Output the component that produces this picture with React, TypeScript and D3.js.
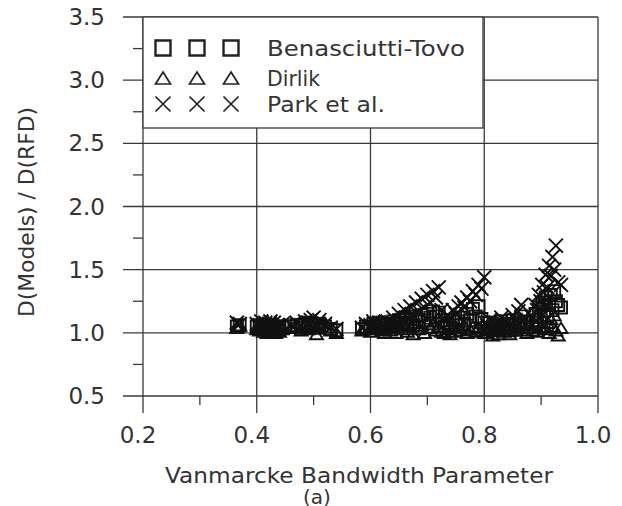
import React from "react";
import * as d3 from "d3";

// Vanmarcke bandwidth parameter (x) and damage ratios for each model
const bandwidth = [
  0.365, 0.37,
  0.4, 0.405, 0.408, 0.412, 0.415, 0.418, 0.421, 0.424, 0.427, 0.43, 0.433, 0.436, 0.44, 0.445,
  0.46, 0.47, 0.478, 0.485, 0.49, 0.495, 0.5, 0.505, 0.51, 0.52, 0.53, 0.54,
  0.585, 0.592, 0.6, 0.605, 0.61, 0.615, 0.62, 0.625, 0.63,
  0.635, 0.64, 0.645, 0.65, 0.655, 0.66, 0.665, 0.67, 0.675, 0.68, 0.685, 0.69, 0.695, 0.7, 0.705, 0.71, 0.715, 0.72, 0.725,
  0.73, 0.735, 0.74, 0.745, 0.75, 0.755, 0.76, 0.765, 0.77, 0.775, 0.78, 0.785, 0.79, 0.795, 0.8,
  0.805, 0.81, 0.815, 0.82, 0.825, 0.83, 0.835, 0.84, 0.845, 0.85, 0.855, 0.86, 0.865, 0.87, 0.875,
  0.885, 0.89, 0.893, 0.896, 0.899, 0.902, 0.905, 0.908, 0.911, 0.914, 0.917, 0.92, 0.923, 0.926, 0.93, 0.935,
];
const benasciuttiTovo = [
  1.05, 1.06,
  1.05, 1.04, 1.06, 1.03, 1.05, 1.02, 1.04, 1.06, 1.03, 1.05, 1.02, 1.04, 1.03, 1.05,
  1.05, 1.06, 1.04, 1.07, 1.05, 1.08, 1.06, 1.04, 1.07, 1.05, 1.03, 1.02,
  1.03, 1.05, 1.04, 1.07, 1.05, 1.08, 1.06, 1.04, 1.07,
  1.06, 1.09, 1.05, 1.1, 1.07, 1.12, 1.08, 1.11, 1.06, 1.13, 1.09, 1.14, 1.1, 1.15, 1.12, 1.17, 1.13, 1.16, 1.1,
  1.05, 1.08, 1.04, 1.1, 1.06, 1.09, 1.12, 1.07, 1.15, 1.1, 1.19, 1.13, 1.21, 1.11, 1.08,
  1.04, 1.08, 1.02, 1.06, 1.03, 1.09, 1.05, 1.07, 1.02, 1.1, 1.06, 1.08, 1.13, 1.09, 1.05,
  1.08, 1.15, 1.1, 1.2, 1.13, 1.24, 1.17, 1.28, 1.14, 1.22, 1.3, 1.18, 1.33, 1.25, 1.22, 1.2,
];
const dirlik = [
  1.04, 1.06,
  1.03, 1.02, 1.05, 1.01, 1.03, 1.0, 1.02, 1.04, 1.01, 1.03, 1.0, 1.02, 1.01, 1.03,
  1.04, 1.05, 1.02, 1.06, 1.03, 1.07, 1.05, 0.99, 1.06, 1.08, 1.02, 1.0,
  1.02, 1.04, 1.01, 1.06, 1.03, 1.05, 1.02, 1.0, 1.04,
  1.02, 1.05, 1.0, 1.06, 1.03, 1.07, 1.01, 1.05, 0.99, 1.08, 1.03, 1.06, 1.0, 1.09, 1.04, 1.07, 1.02, 1.05, 1.01,
  1.0, 1.03, 0.99, 1.05, 1.01, 1.04, 1.02, 1.06, 1.0, 1.03, 1.05, 1.01, 1.04, 1.02, 1.0,
  1.0, 1.03, 0.98, 1.02, 0.99, 1.04, 1.01, 1.03, 0.99, 1.05, 1.02, 1.04, 1.06, 1.02, 1.0,
  1.02, 1.06, 1.01, 1.09, 1.04, 1.12, 1.05, 1.03, 1.08, 1.0, 1.11, 1.05, 1.14, 1.02, 0.98, 1.04,
];
const parkEtAl = [
  1.08, 1.07,
  1.07, 1.06, 1.09, 1.05, 1.08, 1.04, 1.07, 1.09, 1.05, 1.08, 1.04, 1.06, 1.05, 1.07,
  1.06, 1.08, 1.06, 1.09, 1.08, 1.1, 1.12, 1.06, 1.1, 1.07, 1.04, 1.03,
  1.04, 1.07, 1.06, 1.09, 1.06, 1.08, 1.07, 1.05, 1.09,
  1.08, 1.12, 1.07, 1.15, 1.1, 1.18, 1.12, 1.21, 1.14, 1.24, 1.17, 1.27, 1.2, 1.3, 1.24, 1.33, 1.28, 1.36, 1.18,
  1.1, 1.14, 1.12, 1.18, 1.15, 1.21, 1.24, 1.2, 1.28, 1.25, 1.33, 1.3, 1.38, 1.35, 1.44,
  1.06, 1.1, 1.04, 1.08, 1.05, 1.12, 1.07, 1.09, 1.04, 1.14, 1.1, 1.17, 1.22, 1.12, 1.07,
  1.12, 1.22, 1.18, 1.3, 1.25, 1.38, 1.32, 1.46, 1.36, 1.53, 1.45, 1.6, 1.5, 1.69, 1.4, 1.38,
];

const xTicks = [0.2, 0.4, 0.6, 0.8, 1.0];
const xMinorTicks = [0.3, 0.5, 0.7, 0.9];
const yTicks = [0.5, 1.0, 1.5, 2.0, 2.5, 3.0, 3.5];
const yMinorTicks = [0.75, 1.25, 1.75, 2.25, 2.75, 3.25];
const seriesNames = ["Benasciutti-Tovo", "Dirlik", "Park et al."];

const W = 622;
const H = 506;
const FONT = "DejaVu Sans, Verdana, sans-serif";
const LINE = "#3a3a3a";
const TEXT = "#333";

const squarePath = (cx: number, cy: number, s: number) => {
  const h = s / 2;
  return `M${cx - h},${cy - h}H${cx + h}V${cy + h}H${cx - h}Z`;
};
const trianglePath = (cx: number, cy: number, s: number) => {
  const h = s / 2;
  const th = s * 0.8;
  return `M${cx},${cy - th / 2}L${cx + h},${cy + th / 2}L${cx - h},${cy + th / 2}Z`;
};
const crossPath = (cx: number, cy: number, s: number) => {
  const h = s / 2;
  return `M${cx - h},${cy - h}L${cx + h},${cy + h}M${cx + h},${cy - h}L${cx - h},${cy + h}`;
};
const shapes = [squarePath, trianglePath, crossPath];

export default function App() {
  const x = d3.scaleLinear().domain([0.2, 1.0]).range([143, 598]);
  const y = d3.scaleLinear().domain([0.5, 3.5]).range([396, 17]);
  const series = [benasciuttiTovo, dirlik, parkEtAl];
  const dataSizes = [12, 13, 14];
  const fmt = d3.format(".1f");

  const legendRows = [48, 78, 104];
  const legendCols = [163, 197, 231];
  const legendWidths = [198, 53, 118];

  return (
    <svg
      width={W}
      height={H}
      style={{ position: "absolute", left: 0, top: 0, background: "#fff" }}
    >
      <rect x={0} y={0} width={W} height={H} fill="#fff" />
      {yTicks.map((t) => (
        <line
          key={"hy" + t}
          x1={123}
          x2={x(1.0)}
          y1={y(t)}
          y2={y(t)}
          stroke={LINE}
          strokeWidth={1.3}
        />
      ))}
      {yMinorTicks.map((t) => (
        <line
          key={"my" + t}
          x1={133}
          x2={x(0.2)}
          y1={y(t)}
          y2={y(t)}
          stroke={LINE}
          strokeWidth={1.3}
        />
      ))}
      {xTicks.map((t) => (
        <line
          key={"vx" + t}
          x1={x(t)}
          x2={x(t)}
          y1={y(3.5)}
          y2={413}
          stroke={LINE}
          strokeWidth={1.3}
        />
      ))}
      {xMinorTicks.map((t) => (
        <line
          key={"mx" + t}
          x1={x(t)}
          x2={x(t)}
          y1={y(0.5)}
          y2={405}
          stroke={LINE}
          strokeWidth={1.3}
        />
      ))}
      <rect
        x={x(0.2)}
        y={y(3.5)}
        width={483 - x(0.2)}
        height={128 - y(3.5)}
        fill="#fff"
        stroke={LINE}
        strokeWidth={1.3}
      />
      {seriesNames.map((name, i) => (
        <g key={name}>
          {legendCols.map((cx) => (
            <path
              key={cx}
              d={shapes[i](cx, legendRows[i], 15)}
              fill="none"
              stroke="#222"
              strokeWidth={i === 0 ? 2.4 : 1.7}
            />
          ))}
          <text
            x={267}
            y={legendRows[i] + 8}
            fontFamily={FONT}
            fontSize={21}
            fill={TEXT}
            textLength={legendWidths[i]}
            lengthAdjust="spacingAndGlyphs"
          >
            {name}
          </text>
        </g>
      ))}
      {series.map((vals, si) => (
        <g key={"s" + si}>
          {bandwidth.map((b, i) => (
            <path
              key={i}
              d={shapes[si](x(b), y(vals[i]), dataSizes[si])}
              fill="none"
              stroke="#111"
              strokeWidth={1.9}
            />
          ))}
        </g>
      ))}
      {yTicks.map((t) => (
        <text
          key={"ly" + t}
          x={105}
          y={y(t) + 8}
          textAnchor="end"
          fontFamily={FONT}
          fontSize={23}
          fill={TEXT}
        >
          {fmt(t)}
        </text>
      ))}
      {xTicks.map((t) => (
        <text
          key={"lx" + t}
          x={x(t) - 5}
          y={443}
          textAnchor="middle"
          fontFamily={FONT}
          fontSize={23}
          fill={TEXT}
        >
          {fmt(t)}
        </text>
      ))}
      <text
        x={165}
        y={483}
        fontFamily={FONT}
        fontSize={22}
        fill={TEXT}
        textLength={388}
        lengthAdjust="spacingAndGlyphs"
      >
        Vanmarcke Bandwidth Parameter
      </text>
      <text
        x={317}
        y={504}
        textAnchor="middle"
        fontFamily={FONT}
        fontSize={20}
        fill={TEXT}
      >
        (a)
      </text>
      <text
        transform={`translate(34,212) rotate(-90)`}
        textAnchor="middle"
        fontFamily={FONT}
        fontSize={21}
        fill={TEXT}
        textLength={210}
        lengthAdjust="spacingAndGlyphs"
      >
        D(Models) / D(RFD)
      </text>
    </svg>
  );
}
